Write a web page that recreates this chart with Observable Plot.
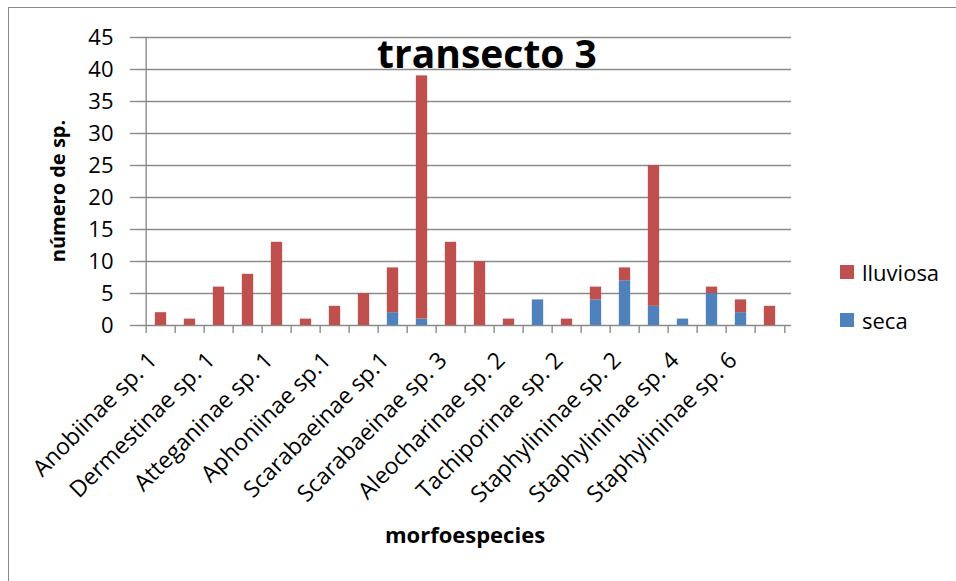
<!DOCTYPE html>
<html><head><meta charset="utf-8">
<script src="https://cdn.jsdelivr.net/npm/d3@7"></script>
<script src="https://cdn.jsdelivr.net/npm/@observablehq/plot@0.6"></script>
<style>
body{margin:0;background:#fff;}
#wrap{position:relative;width:956px;height:581px;overflow:hidden;font-family:"Open Sans",Lato,sans-serif;color:#000;}
#frame{position:absolute;left:8px;top:7px;width:1200px;height:1200px;border-left:1.5px solid #8a8a8a;border-top:1.5px solid #8a8a8a;}
#chart{position:absolute;left:0;top:0;}
.t{position:absolute;white-space:nowrap;line-height:1;}
#title{left:487px;top:52px;transform:translate(-50%,-50%);font-size:39px;font-weight:bold;}
#ylab{left:58px;top:191px;transform:translate(-50%,-50%) rotate(-90deg);font-size:20px;font-weight:bold;}
#xlab{left:465px;top:534px;transform:translate(-50%,-50%);font-size:22px;font-weight:bold;}
.leg{position:absolute;left:840px;font-size:22px;display:flex;align-items:center;line-height:1;height:24px;}
.leg span.sw{display:inline-block;width:14px;height:14px;margin-right:8px;}
</style></head>
<body>
<div id="wrap">
<div id="frame"></div>
<div id="chart"></div>
<div class="t" id="title">transecto 3</div>
<div class="t" id="ylab">número de sp.</div>
<div class="t" id="xlab">morfoespecies</div>
<div id="legend"></div>
</div>
<script>
const categories = [
  "Anobiinae sp. 1","Anobiinae sp. 2","Dermestinae sp. 1","Dermestinae sp. 2",
  "Atteganinae sp. 1","Atteganinae sp. 2","Aphoniinae sp.1","Aphoniinae sp.2",
  "Scarabaeinae sp.1","Scarabaeinae sp. 2","Scarabaeinae sp. 3","Aleocharinae sp. 1",
  "Aleocharinae sp. 2","Tachiporinae sp. 1","Tachiporinae sp. 2","Staphylininae sp. 1",
  "Staphylininae sp. 2","Staphylininae sp. 3","Staphylininae sp. 4","Staphylininae sp. 5",
  "Staphylininae sp. 6","Staphylininae sp. 7"
];
const seca     = [0,0,0,0,0,0,0,0,2,1,0,0,0,4,0,4,7,3,1,5,2,0];
const lluviosa = [2,1,6,8,13,1,3,5,7,38,13,10,1,0,1,2,2,22,0,1,2,3];
const series = ["lluviosa","seca"];
const colors = ["#C0504D","#4F81BD"];
const yTicks = [0,5,10,15,20,25,30,35,40,45];

const rows = [];
categories.forEach((c,i)=>rows.push({cat:c, serie:"seca", v:seca[i]}));
categories.forEach((c,i)=>rows.push({cat:c, serie:"lluviosa", v:lluviosa[i]}));

const W=956,H=581,mL=138,mR=165,mT=37,mB=256;
const step=(W-mL-mR)/categories.length;
const inset=(step-12)/2;
const gray="#8a8a8a";
const font="'Open Sans', Lato, sans-serif";

const chart = Plot.plot({
  width:W, height:H, marginLeft:mL, marginRight:mR, marginTop:mT, marginBottom:mB,
  style:{fontFamily:font, fontSize:"22px", color:"#000", background:"transparent", overflow:"visible"},
  x:{domain:categories, padding:0, label:null, axis:null},
  y:{domain:[0,45], label:null, axis:null},
  color:{domain:series, range:colors},
  marks:[
    Plot.gridY(yTicks,{stroke:gray, strokeOpacity:1, strokeWidth:1.4}),
    Plot.barY(rows,{x:"cat", y:"v", fill:"serie", insetLeft:inset, insetRight:inset}),
    Plot.axisY(yTicks,{tickSize:8, stroke:gray, strokeWidth:1.4, tickFormat:()=>"", label:null}),
    Plot.axisY(yTicks,{tickSize:0, tickPadding:25, fontSize:22, fill:"#000", label:null}),
    Plot.ruleX([0],{x:()=>categories[0], dx:-step/2, y1:0, y2:45, stroke:gray, strokeWidth:1.4}),
    Plot.axisX(categories,{tickSize:8, dx:-step/2, stroke:gray, strokeWidth:1.4, tickFormat:()=>"", label:null}),
    Plot.axisX([categories[categories.length-1]],{tickSize:8, dx:step/2, stroke:gray, strokeWidth:1.4, tickFormat:()=>"", label:null}),
    Plot.axisX(categories.filter((d,i)=>i%2===0),{tickSize:0, tickPadding:31, dx:-8, tickRotate:-45, fontSize:23, fill:"#000", label:null})
  ]
});
document.getElementById("chart").appendChild(chart);

const leg = document.getElementById("legend");
const legMid = {lluviosa:271.5, seca:319.5};
series.forEach((s,i)=>{
  const d=document.createElement("div");
  d.className="leg";
  d.style.top=(legMid[s]-12)+"px";
  d.innerHTML=`<span class="sw" style="background:${colors[i]}"></span><span>${s}</span>`;
  leg.appendChild(d);
});
</script>
</body></html>
